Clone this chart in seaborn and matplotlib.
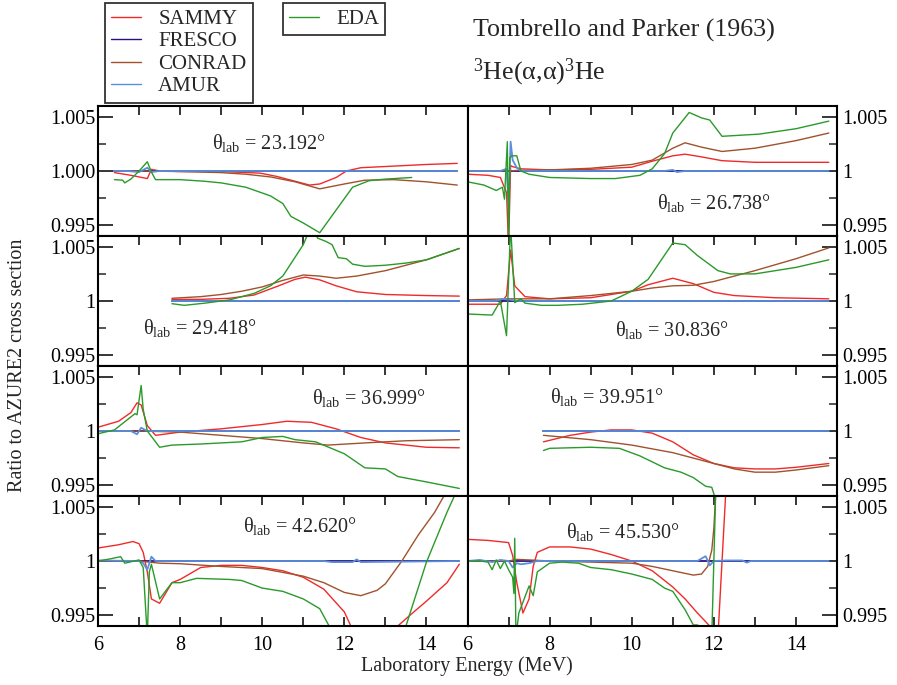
import matplotlib
matplotlib.use("Agg")
import matplotlib.pyplot as plt
from matplotlib.lines import Line2D
from matplotlib.ticker import MultipleLocator
import seaborn as sns

# -----------------------------
# Data: laboratory energy (MeV) and ratio to AZURE2
# -----------------------------
angles = ["23.192", "26.738", "29.418", "30.836", "36.999", "39.951", "42.620", "45.530"]
codes = ["SAMMY", "FRESCO", "CONRAD", "AMUR", "EDA"]

# theta = 23.192
e23_sammy = [6.4, 6.8, 7.2, 7.3, 7.5, 8.0, 9.0, 9.95, 10.35, 10.75, 11.15, 11.4, 11.8, 12.05, 12.4, 13.2, 14.0, 14.75]
r23_sammy = [0.99985, 0.9996, 0.9993, 1.00015, 1.0, 0.99995, 0.99995, 0.9998, 0.9995, 0.9991, 0.9987, 0.9988, 0.9994, 1.0, 1.0003, 1.00045, 1.0006, 1.0007]
e23_fresco = [6.4, 14.75]
r23_fresco = [1.0, 1.0]
e23_conrad = [6.4, 7.0, 8.0, 9.0, 9.6, 10.2, 10.8, 11.4, 12.0, 12.5, 13.2, 14.0, 14.75]
r23_conrad = [1.0, 1.0, 0.99995, 0.99985, 0.9997, 0.99945, 0.999, 0.99835, 0.9988, 0.99915, 0.9992, 0.999, 0.9987]
e23_amur = [6.4, 6.7, 7.0, 7.2, 7.3, 7.5, 14.75]
r23_amur = [1.0, 1.0, 0.9999, 1.0003, 0.9999, 1.0, 1.0]
e23_eda = [6.4, 6.6, 6.65, 6.8, 7.0, 7.2, 7.3, 7.4, 8.0, 8.6, 9.0, 9.6, 10.2, 10.5, 10.7, 11.0, 11.4, 11.8, 12.2, 12.6, 13.0, 13.64]
r23_eda = [0.9992, 0.99915, 0.9989, 0.99925, 1.0, 1.00085, 0.9999, 0.9992, 0.9992, 0.99905, 0.9989, 0.9985, 0.9977, 0.997, 0.9958, 0.9952, 0.9943, 0.9964, 0.9985, 0.9991, 0.99925, 0.9994]

# theta = 26.738
e26_sammy = [6.0, 6.5, 6.8, 6.95, 7.0, 7.05, 7.1, 7.3, 8.0, 9.0, 10.0, 10.5, 11.0, 11.3, 11.7, 12.2, 13.0, 14.8]
r26_sammy = [0.9997, 0.9996, 0.9994, 0.998, 0.993, 1.0005, 1.0004, 1.0002, 1.0001, 1.00015, 1.00035, 1.0009, 1.0014, 1.00155, 1.0013, 1.00095, 1.0008, 1.0008]
e26_fresco = [6.0, 14.8]
r26_fresco = [1.0, 1.0]
e26_conrad = [6.0, 7.0, 7.2, 8.0, 9.0, 10.0, 10.5, 11.0, 11.3, 11.7, 12.2, 13.0, 14.0, 14.8]
r26_conrad = [1.0, 1.0, 1.00005, 1.0001, 1.00025, 1.0006, 1.001, 1.0021, 1.0026, 1.0022, 1.0018, 1.0021, 1.0028, 1.0035]
e26_amur = [6.0, 6.8, 6.95, 7.0, 7.05, 7.1, 7.2, 7.3, 10.8, 11.0, 11.1, 11.3, 14.8]
r26_amur = [1.0, 1.0, 1.0002, 0.997, 1.0027, 1.001, 1.0003, 1.0, 1.0, 1.0001, 0.9999, 1.0, 1.0]
e26_eda = [6.0, 6.4, 6.7, 6.85, 6.9, 6.97, 7.0, 7.03, 7.08, 7.2, 7.3, 7.5, 8.0, 9.0, 9.6, 10.2, 10.5, 10.8, 11.0, 11.4, 11.7, 11.9, 12.2, 13.1, 14.0, 14.8]
r26_eda = [0.999, 0.9987, 0.9982, 0.9985, 0.9974, 1.0027, 0.993, 1.0012, 1.0014, 1.0014, 1.0, 0.9997, 0.9994, 0.9993, 0.9993, 0.9996, 1.0002, 1.0016, 1.0035, 1.0054, 1.0049, 1.0047, 1.0032, 1.0034, 1.0039, 1.0046]

# theta = 29.418
e29_sammy = [7.8, 8.5, 9.2, 9.8, 10.4, 10.8, 11.05, 11.4, 11.8, 12.3, 13.0, 14.0, 14.8]
r29_sammy = [1.00015, 1.00015, 1.00025, 1.00055, 1.0014, 1.002, 1.0022, 1.00195, 1.0014, 1.00085, 1.0006, 1.0005, 1.00045]
e29_fresco = [7.8, 14.8]
r29_fresco = [1.0, 1.0]
e29_conrad = [7.8, 8.5, 9.0, 9.5, 10.0, 10.5, 11.0, 11.4, 11.8, 12.3, 13.0, 13.5, 14.0, 14.8]
r29_conrad = [1.00025, 1.0004, 1.0006, 1.0009, 1.0013, 1.0019, 1.0024, 1.0023, 1.0021, 1.0023, 1.0028, 1.0033, 1.0038, 1.00485]
e29_amur = [7.8, 14.8]
r29_amur = [1.0, 1.0]
e29_eda = [7.8, 8.1, 8.6, 9.2, 9.8, 10.2, 10.5, 11.0, 11.2, 11.35, 11.55, 11.7, 11.85, 12.05, 12.2, 12.5, 13.0, 13.5, 14.0, 14.8]
r29_eda = [0.99975, 0.9996, 0.9998, 1.0001, 1.0007, 1.0014, 1.0023, 1.0052, 1.007, 1.0058, 1.0055, 1.0052, 1.004, 1.0039, 1.0034, 1.0032, 1.0033, 1.0035, 1.0038, 1.00485]

# theta = 30.836
e30_sammy = [6.0, 6.5, 6.8, 6.95, 7.05, 7.15, 7.4, 8.0, 9.0, 10.0, 10.4, 11.0, 11.5, 12.0, 12.5, 13.5, 14.8]
r30_sammy = [0.9997, 0.9997, 0.9997, 1.0005, 1.0047, 1.0014, 1.0004, 1.0002, 1.0003, 1.0009, 1.0015, 1.0021, 1.0016, 1.0008, 1.0005, 1.0003, 1.0002]
e30_fresco = [6.0, 14.8]
r30_fresco = [1.0, 1.0]
e30_conrad = [6.0, 7.0, 8.0, 9.0, 10.0, 10.5, 11.0, 11.5, 12.0, 13.0, 14.0, 14.8]
r30_conrad = [1.0001, 1.0002, 1.0002, 1.0005, 1.0009, 1.0012, 1.0014, 1.00145, 1.0018, 1.0028, 1.0039, 1.0049]
e30_amur = [6.0, 6.7, 6.85, 7.0, 7.2, 14.8]
r30_amur = [1.0, 1.0, 1.0002, 1.00015, 1.0, 1.0]
e30_eda = [6.0, 6.6, 6.8, 6.95, 7.05, 7.15, 7.3, 7.4, 7.8, 8.2, 8.8, 9.5, 10.0, 10.4, 11.0, 11.3, 11.6, 12.1, 12.4, 13.0, 14.0, 14.8]
r30_eda = [0.9988, 0.9987, 1.0, 0.9968, 1.007, 0.99985, 1.0002, 0.9998, 0.9996, 0.9996, 0.9997, 1.0, 1.0009, 1.002, 1.00535, 1.0052, 1.0042, 1.0028, 1.0025, 1.0025, 1.0031, 1.0038]

# theta = 36.999
e36_sammy = [6.0, 6.5, 6.8, 6.95, 7.05, 7.2, 7.4, 8.0, 9.0, 10.0, 10.6, 11.2, 11.8, 12.4, 13.0, 14.0, 14.8]
r36_sammy = [1.00035, 1.0009, 1.0017, 1.0026, 1.0024, 1.0005, 0.9996, 0.9999, 1.0002, 1.0006, 1.0009, 1.0008, 1.0002, 0.9994, 0.9989, 0.9985, 0.99845]
e36_fresco = [6.0, 14.8]
r36_fresco = [1.0, 1.0]
e36_conrad = [6.0, 7.0, 8.0, 9.0, 10.0, 11.0, 11.6, 12.5, 13.5, 14.8]
r36_conrad = [1.0, 1.0, 0.9999, 0.9996, 0.9993, 0.9989, 0.9987, 0.9989, 0.9991, 0.9992]
e36_amur = [6.0, 6.8, 6.95, 7.05, 7.2, 14.8]
r36_amur = [1.0, 1.0, 0.9997, 1.0003, 1.0, 1.0]
e36_eda = [6.0, 6.4, 6.9, 6.95, 7.05, 7.1, 7.2, 7.5, 7.8, 8.5, 9.5, 10.0, 10.5, 10.8, 11.3, 12.0, 12.5, 13.0, 13.3, 14.0, 14.8]
r36_eda = [0.99975, 1.0001, 1.0016, 1.0015, 1.0042, 1.002, 1.0, 0.9985, 0.9987, 0.9988, 0.999, 0.9994, 0.9995, 0.9992, 0.999, 0.9979, 0.9966, 0.9965, 0.9958, 0.9953, 0.9947]

# theta = 39.951
e39_sammy = [7.85, 8.5, 9.0, 9.5, 10.0, 10.5, 11.0, 11.5, 12.0, 12.5, 13.0, 13.5, 14.0, 14.8]
r39_sammy = [0.999, 0.9996, 0.9999, 1.0001, 1.0001, 0.9998, 0.999, 0.9978, 0.997, 0.9966, 0.9965, 0.9965, 0.99665, 0.997]
e39_fresco = [7.85, 14.8]
r39_fresco = [1.0, 1.0]
e39_conrad = [7.85, 9.0, 10.0, 11.0, 12.0, 12.5, 13.0, 13.5, 14.0, 14.8]
r39_conrad = [0.9996, 0.9992, 0.9987, 0.998, 0.997, 0.9965, 0.9962, 0.9962, 0.9964, 0.9968]
e39_amur = [7.85, 14.8]
r39_amur = [1.0, 1.0]
e39_eda = [7.85, 8.0, 9.0, 9.7, 10.2, 10.8, 11.2, 11.5, 11.8, 11.95, 12.1]
r39_eda = [0.9982, 0.9984, 0.9985, 0.9984, 0.9977, 0.9966, 0.9962, 0.9957, 0.9949, 0.9948, 0.993]

# theta = 42.620
e42_sammy = [6.0, 6.5, 6.85, 7.0, 7.1, 7.2, 7.3, 7.5, 7.8, 8.0, 8.5, 9.0, 9.5, 10.0, 10.5, 11.0, 11.5, 12.0, 12.4, 13.0, 13.3, 13.6, 14.0, 14.5, 14.8]
r42_sammy = [1.0012, 1.0015, 1.0018, 1.0016, 1.0008, 0.999, 0.9965, 0.9961, 0.998, 0.9983, 0.9994, 0.9996, 0.9996, 0.9994, 0.9991, 0.9985, 0.9974, 0.9953, 0.992, 0.992, 0.994, 0.995, 0.9963, 0.998, 0.9997]
e42_fresco = [6.0, 14.8]
r42_fresco = [1.0, 1.0]
e42_conrad = [6.0, 7.0, 7.5, 8.0, 9.0, 10.0, 11.0, 11.5, 12.0, 12.4, 12.8, 13.0, 13.4, 13.8, 14.2, 14.5]
r42_conrad = [1.0, 1.0, 0.9998, 0.99975, 0.9995, 0.9993, 0.9986, 0.998, 0.9971, 0.9968, 0.9973, 0.9979, 1.0, 1.0024, 1.0045, 1.0065]
e42_amur = [6.0, 7.0, 7.1, 7.2, 7.3, 7.4, 11.5, 11.7, 12.2, 12.3, 12.4, 14.8]
r42_amur = [1.00005, 1.0, 0.9998, 0.9992, 1.0004, 1.0, 1.0, 0.9999, 0.9999, 1.00015, 0.9999, 1.0]
e42_eda = [6.0, 6.3, 6.55, 6.65, 7.0, 7.1, 7.2, 7.25, 7.3, 7.5, 7.8, 8.0, 8.4, 9.2, 9.5, 10.0, 10.5, 11.0, 11.4, 11.7, 12.5, 13.5, 14.0, 14.5, 14.8]
r42_eda = [1.0, 1.0002, 1.0004, 0.9998, 1.0001, 0.9994, 0.993, 0.999, 0.9997, 0.9965, 0.998, 0.998, 0.9984, 0.9983, 0.9982, 0.9975, 0.9972, 0.9965, 0.9956, 0.9935, 0.988, 0.994, 0.9999, 1.0045, 1.007]

# theta = 45.530
e45_sammy = [6.0, 6.5, 7.0, 7.1, 7.2, 7.35, 7.5, 7.6, 7.7, 8.0, 8.5, 9.0, 9.5, 10.0, 10.5, 11.0, 11.3, 11.6, 11.9, 12.1, 12.3]
r45_sammy = [1.002, 1.0019, 1.0017, 1.0005, 0.998, 0.9952, 0.9965, 0.9995, 1.0008, 1.0013, 1.0013, 1.0011, 1.0006, 1.0, 0.9991, 0.9976, 0.9965, 0.9952, 0.994, 0.993, 1.007]
e45_fresco = [6.0, 14.8]
r45_fresco = [1.0, 1.0]
e45_conrad = [6.0, 7.0, 7.2, 7.5, 8.0, 9.0, 10.0, 10.5, 11.0, 11.5, 11.7, 11.85, 11.95, 12.0, 12.05]
r45_conrad = [1.0, 1.0, 1.00015, 1.0001, 1.0, 0.9999, 0.9998, 0.9995, 0.9991, 0.9987, 0.9988, 0.9995, 1.001, 1.003, 1.0065]
e45_amur = [6.0, 6.3, 6.6, 6.8, 7.0, 7.1, 7.2, 7.3, 7.5, 7.7, 11.6, 11.8, 11.9, 12.0, 12.3, 12.7, 12.8, 12.9, 14.8]
r45_amur = [1.0, 1.0001, 0.9999, 1.0001, 1.0, 0.9994, 0.9998, 0.9997, 0.9998, 1.0, 1.0, 1.00045, 0.9996, 1.0, 1.00005, 1.00005, 0.99985, 1.0, 1.0]
e45_eda = [6.0, 6.3, 6.5, 6.6, 6.7, 6.8, 6.9, 7.0, 7.1, 7.13, 7.15, 7.18, 7.25, 7.35, 7.5, 7.6, 7.7, 8.0, 8.3, 8.7, 9.0, 9.5, 10.0, 10.5, 10.8, 11.0, 11.3, 11.5, 11.6, 11.95, 12.05]
r45_eda = [1.0, 1.0, 0.9999, 0.9992, 1.0001, 0.9993, 1.0, 0.9992, 0.9985, 0.997, 1.0021, 0.993, 0.9952, 0.9962, 0.9977, 0.9968, 0.999, 0.9998, 0.9999, 0.9998, 0.9994, 0.9992, 0.9988, 0.9983, 0.9975, 0.9972, 0.9955, 0.9941, 0.9941, 0.993, 1.007]

# -----------------------------
# Style
# -----------------------------
colors = {"SAMMY": "#f02a2a", "FRESCO": "#2c1080", "CONRAD": "#a0522d",
          "AMUR": "#5a8fdc", "EDA": "#2a9a2a"}

# label position per panel: (energy, axes-fraction y)
label_pos = [(8.77, 0.715), (10.62, 0.25), (7.1, 0.29), (9.6, 0.28),
             (11.2, 0.75), (8.02, 0.76), (9.53, 0.77), (8.41, 0.72)]

sns.set_theme(style="ticks")
plt.rcParams["font.family"] = ["Liberation Serif", "DejaVu Serif"]
plt.rcParams["mathtext.fontset"] = "custom"
plt.rcParams["mathtext.rm"] = "Liberation Serif"
plt.rcParams["mathtext.it"] = "Liberation Serif:italic"

series = {
    "23.192": [(e23_sammy, r23_sammy), (e23_fresco, r23_fresco), (e23_conrad, r23_conrad), (e23_amur, r23_amur), (e23_eda, r23_eda)],
    "26.738": [(e26_sammy, r26_sammy), (e26_fresco, r26_fresco), (e26_conrad, r26_conrad), (e26_amur, r26_amur), (e26_eda, r26_eda)],
    "29.418": [(e29_sammy, r29_sammy), (e29_fresco, r29_fresco), (e29_conrad, r29_conrad), (e29_amur, r29_amur), (e29_eda, r29_eda)],
    "30.836": [(e30_sammy, r30_sammy), (e30_fresco, r30_fresco), (e30_conrad, r30_conrad), (e30_amur, r30_amur), (e30_eda, r30_eda)],
    "36.999": [(e36_sammy, r36_sammy), (e36_fresco, r36_fresco), (e36_conrad, r36_conrad), (e36_amur, r36_amur), (e36_eda, r36_eda)],
    "39.951": [(e39_sammy, r39_sammy), (e39_fresco, r39_fresco), (e39_conrad, r39_conrad), (e39_amur, r39_amur), (e39_eda, r39_eda)],
    "42.620": [(e42_sammy, r42_sammy), (e42_fresco, r42_fresco), (e42_conrad, r42_conrad), (e42_amur, r42_amur), (e42_eda, r42_eda)],
    "45.530": [(e45_sammy, r45_sammy), (e45_fresco, r45_fresco), (e45_conrad, r45_conrad), (e45_amur, r45_amur), (e45_eda, r45_eda)],
}

fig = plt.figure(figsize=(8.97, 6.85), dpi=100)
axes = fig.subplots(4, 2, sharex=True)
fig.subplots_adjust(left=0.1093, right=0.9331, top=0.8453, bottom=0.0861,
                    wspace=0, hspace=0)

FS = 14.5
for i, ang in enumerate(angles):
    ax = axes[i // 2, i % 2]
    right = (i % 2 == 1)
    for code, (e, r) in zip(codes, series[ang]):
        lw = 1.3 if code in ("AMUR", "FRESCO") else 1.0
        sns.lineplot(x=e, y=r, ax=ax, color=colors[code], lw=lw,
                     estimator=None, sort=False, legend=False)
    ax.set_xlim(6, 15)
    ax.set_ylim(0.994, 1.006)
    ax.xaxis.set_major_locator(MultipleLocator(2))
    ax.xaxis.set_minor_locator(MultipleLocator(1))
    ax.set_yticks([0.995, 1.0, 1.005])
    ax.yaxis.set_minor_locator(MultipleLocator(0.0025))
    mid = "1.000" if i == 0 else "1"
    ax.set_yticklabels(["0.995", mid, "1.005"])
    ax.set_xlabel("")
    ax.set_ylabel("")
    for sp in ax.spines.values():
        sp.set_linewidth(1.5)
        sp.set_color("black")
    bottom_row = (i // 2 == 3)
    ax.tick_params(axis="x", which="both", direction="in", top=True,
                   bottom=bottom_row, length=6.5, width=1.1, labelsize=FS,
                   pad=7, colors="black")
    ax.tick_params(axis="y", which="major", direction="in", length=10.5,
                   width=1.1, labelsize=FS, colors="black",
                   left=not right, right=right, labelleft=not right,
                   labelright=right, pad=2 if not right else 4)
    ax.tick_params(axis="y", which="minor", direction="in", length=5.5,
                   width=1.1, left=not right, right=right)
    lx, ly = label_pos[i]
    ax.text(lx, ly, "θ$_{\\rm lab}$ = " + ang + "°", transform=ax.get_xaxis_transform(),
            fontsize=FS, va="center", ha="left")

fig.text(0.5206, 0.027, "Laboratory Energy (MeV)", ha="center", va="center", fontsize=FS)
fig.text(0.02, 0.467, "Ratio to AZURE2 cross section", ha="center", va="center",
         rotation=90, fontsize=FS)
fig.text(0.527, 0.956, "Tombrello and Parker (1963)", ha="left", va="center", fontsize=18.7)
fig.text(0.527, 0.895, "$^{3}$He(α,α)$^{3}$He", ha="left", va="center", fontsize=18.7)

LFS = 15
handles = [Line2D([], [], color=colors[c], lw=1.0) for c in codes[:4]]
leg1 = fig.legend(handles, codes[:4], loc="upper left", bbox_to_anchor=(105 / 897, 1 - 3 / 685),
                  fontsize=LFS, frameon=True, fancybox=False, edgecolor="black",
                  handlelength=1.45, handletextpad=0.8, labelspacing=0.14,
                  borderpad=0.3, borderaxespad=0)
leg1.get_frame().set_linewidth(1.3)
leg2 = fig.legend([Line2D([], [], color=colors["EDA"], lw=1.0)], ["EDA"], loc="upper left",
                  bbox_to_anchor=(283 / 897, 1 - 3 / 685), fontsize=LFS, frameon=True,
                  fancybox=False, edgecolor="black", handlelength=1.45,
                  handletextpad=0.8, borderpad=0.3, borderaxespad=0)
leg2.get_frame().set_linewidth(1.3)

fig.savefig("out.png", dpi=100)
